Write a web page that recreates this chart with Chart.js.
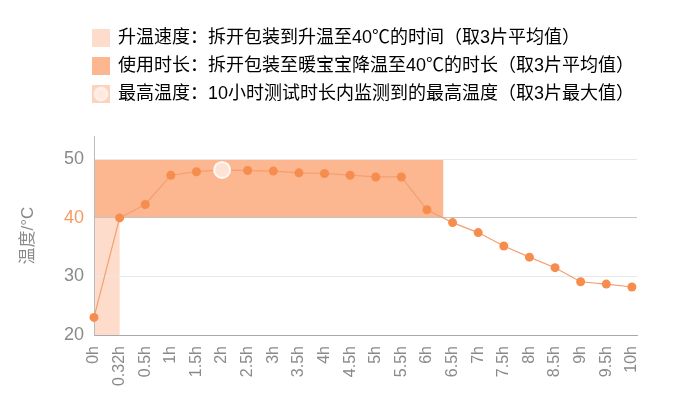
<!DOCTYPE html>
<html>
<head>
<meta charset="utf-8">
<script src="https://cdn.jsdelivr.net/npm/chart.js@4.4.1/dist/chart.umd.min.js"></script>
<style>
  html, body { margin: 0; padding: 0; background: #fff; }
  #wrap { width: 680px; height: 419px; position: relative; }
</style>
</head>
<body>
<div id="wrap"><canvas id="chart"></canvas></div>
<script>
// data
const hours = ['0h', '0.32h', '0.5h', '1h', '1.5h', '2h', '2.5h', '3h', '3.5h', '4h', '4.5h',
  '5h', '5.5h', '6h', '6.5h', '7h', '7.5h', '8h', '8.5h', '9h', '9.5h', '10h'];
const temps = [23, 40, 42.3, 47.3, 47.9, 48.2, 48.1, 48.0, 47.7, 47.6, 47.3,
  47.0, 47.0, 41.4, 39.2, 37.5, 35.2, 33.3, 31.5, 29.1, 28.7, 28.2];
const yTicks = [20, 30, 40, 50];
const threshold = 40;
const bandTop = 50;
const legendTexts = [
  '升温速度：拆开包装到升温至40℃的时间（取3片平均值）',
  '使用时长：拆开包装至暖宝宝降温至40℃的时长（取3片平均值）',
  '最高温度：10小时测试时长内监测到的最高温度（取3片最大值）'
];

const FONT = '"Liberation Sans", "Noto Sans CJK SC", sans-serif';
const LIGHT = '#fedccb';
const DARK = '#fcb690';
const POINT = '#f68d4e';
const GRAY = '#8a8a8a';

const peakIdx = temps.indexOf(Math.max(...temps));
const riseIdx = temps.findIndex(v => v >= threshold);

// fractional index where the curve drops back below the threshold
let dropIdx = temps.length - 1;
for (let i = peakIdx; i < temps.length - 1; i++) {
  if (temps[i] >= threshold && temps[i + 1] < threshold) {
    dropIdx = i + (temps[i] - threshold) / (temps[i] - temps[i + 1]);
    break;
  }
}

function icon(draw) {
  const c = document.createElement('canvas');
  c.width = 18; c.height = 18;
  draw(c.getContext('2d'));
  return c;
}
const icons = [
  icon(g => { g.fillStyle = LIGHT; g.fillRect(0, 0, 18, 18); }),
  icon(g => { g.fillStyle = DARK; g.fillRect(0, 0, 18, 18); }),
  icon(g => {
    g.fillStyle = '#fcd3bd'; g.fillRect(0, 0, 18, 18);
    const rg = g.createRadialGradient(9, 9, 1, 9, 9, 8);
    rg.addColorStop(0, '#fde6da'); rg.addColorStop(0.7, '#fef0e8'); rg.addColorStop(1, 'rgba(255,255,255,0.3)');
    g.fillStyle = rg; g.beginPath(); g.arc(9, 9, 7.5, 0, Math.PI * 2); g.fill();
  })
];

const bands = {
  id: 'bands',
  beforeDraw(chart) {
    const { ctx, scales: { x, y } } = chart;
    const x0 = x.getPixelForValue(0);
    ctx.save();
    ctx.fillStyle = LIGHT;
    ctx.fillRect(x0, y.getPixelForValue(threshold), x.getPixelForValue(riseIdx) - x0,
      y.getPixelForValue(y.min) - y.getPixelForValue(threshold));
    ctx.fillStyle = DARK;
    ctx.fillRect(x0, y.getPixelForValue(bandTop), x.getPixelForValue(dropIdx) - x0,
      y.getPixelForValue(threshold) - y.getPixelForValue(bandTop));
    ctx.restore();
  }
};

// legend: indent the rows and leave a gap under them
const legendTweak = {
  id: 'legendTweak',
  beforeLayout(chart) {
    const lg = chart.legend;
    if (lg && !lg._tweaked) {
      const fit = lg.fit.bind(lg);
      lg.fit = function () { fit(); this.height += 23; };
      lg._tweaked = true;
    }
  },
  afterLayout(chart) {
    chart.legend.left = 83;
  }
};

const chart = new Chart(document.getElementById('chart'), {
  type: 'line',
  data: {
    datasets: [{
      data: temps.map((v, i) => ({ x: i, y: v })),
      borderColor: '#f3a070',
      borderWidth: 1.2,
      clip: false,
      pointRadius: temps.map((v, i) => i === peakIdx ? 8 : 4.5),
      pointBackgroundColor: temps.map((v, i) => i === peakIdx ? 'rgba(253,230,218,0.95)' : POINT),
      pointBorderColor: temps.map((v, i) => i === peakIdx ? 'rgba(255,255,255,0.85)' : POINT),
      pointBorderWidth: temps.map((v, i) => i === peakIdx ? 2 : 0),
      tension: 0
    }]
  },
  options: {
    responsive: true,
    maintainAspectRatio: false,
    animation: false,
    layout: { padding: { top: 19, right: 43, left: 0, bottom: 0 } },
    plugins: {
      tooltip: { enabled: false },
      legend: {
        position: 'top',
        align: 'start',
        labels: {
          usePointStyle: true,
          boxWidth: 16,
          boxHeight: 16,
          padding: 10,
          color: '#707070',
          font: { family: FONT, size: 18 },
          generateLabels: () => legendTexts.map((t, i) => ({
            text: t, pointStyle: icons[i], fillStyle: DARK, strokeStyle: DARK, lineWidth: 0, hidden: false, datasetIndex: 0
          }))
        },
        onClick: () => {}
      }
    },
    scales: {
      x: {
        type: 'linear',
        min: 0,
        max: hours.length - 1 + 0.2,
        afterBuildTicks(s) { s.ticks = hours.map((h, i) => ({ value: i })); },
        grid: { display: false, drawTicks: false },
        border: { display: true, color: '#aaaaaa' },
        ticks: {
          color: GRAY, font: { family: FONT, size: 16 },
          callback: v => hours[v],
          minRotation: 90, maxRotation: 90, padding: 11, autoSkip: false
        },
        afterFit(s) { s.height = 84; }
      },
      y: {
        min: 20,
        max: 54,
        afterBuildTicks(s) { s.ticks = yTicks.map(v => ({ value: v })); },
        grid: {
          drawTicks: false,
          color: c => c.tick.value === threshold ? '#c2c2c2' : (c.tick.value === 20 ? '#aaaaaa' : '#e8e8e8')
        },
        border: { display: true, color: '#bbbbbb' },
        ticks: {
          padding: 10,
          color: c => c.tick.value === threshold ? '#f39b63' : GRAY,
          font: { family: FONT, size: 18 }
        },
        title: {
          display: true, text: '温度/°C', color: GRAY,
          font: { family: FONT, size: 17 }, padding: { top: 18, bottom: 0 }
        },
        afterFit(s) { s.width = 94; }
      }
    }
  },
  plugins: [bands, legendTweak]
});
</script>
</body>
</html>
